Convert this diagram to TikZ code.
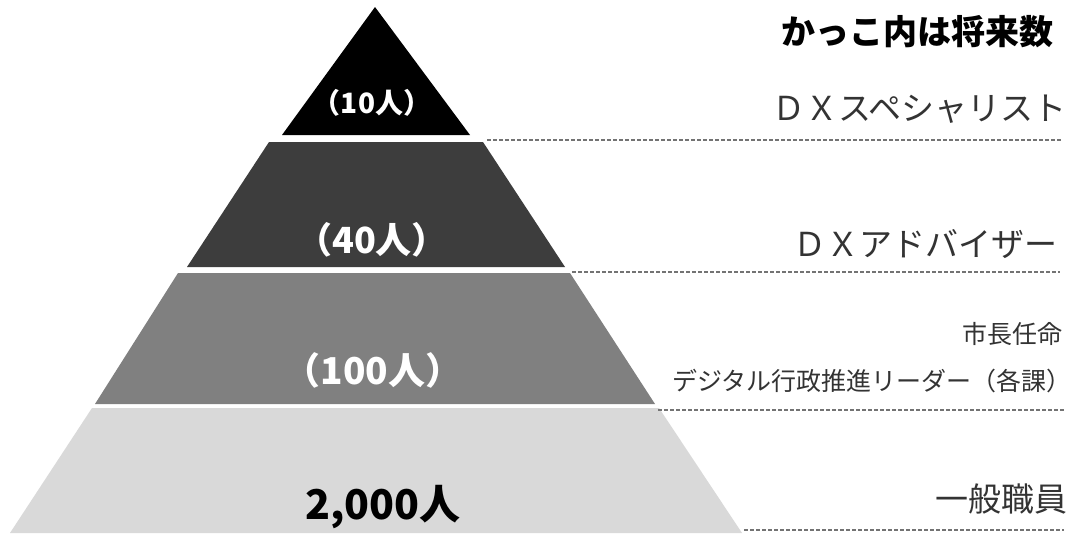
\documentclass[tikz,border=0pt]{standalone}
\usepackage{fontspec}
\newfontfamily\jp{Noto Sans CJK JP}
\begin{document}
\begin{tikzpicture}[x=1pt,y=-1pt,
  band/.style={draw=none},
  dashline/.style={draw=black!55, line width=2pt, dash pattern=on 3.5pt off 2.5pt},
  inlbl/.style={inner sep=0, text=white, font=\jp\bfseries\fontsize{#1}{#1}\selectfont},
  sidelbl/.style={inner sep=0, anchor=east, text=black!80, font=\jp\fontsize{#1}{#1}\selectfont}]
\useasboundingbox (0,0) rectangle (1078,533);
\fill[white] (0,0) rectangle (1078,533);
% bands
\fill[band, fill=black] (375,7) -- (470,135) -- (282,135) -- cycle;
\fill[band, fill=black!76] (269,142) -- (483,142) -- (565,267) -- (187,267) -- cycle;
\fill[band, fill=black!50] (178,273) -- (570,273) -- (655,404) -- (95,404) -- cycle;
\fill[band, fill=black!15] (92,408) -- (659,408) -- (742,533) -- (10,533) -- cycle;
% dashed guide lines
\coordinate (d1a) at (487,140); \coordinate (d1b) at (1062,140);
\coordinate (d2a) at (572,272); \coordinate (d2b) at (1060,272);
\coordinate (d3a) at (658,410); \coordinate (d3b) at (1064,410);
\coordinate (d4a) at (744,530); \coordinate (d4b) at (1064,530);
\draw[dashline] (d1a) -- (d1b);
\draw[dashline] (d2a) -- (d2b);
\draw[dashline] (d3a) -- (d3b);
\draw[dashline] (d4a) -- (d4b);
% labels in pyramid
\node[inlbl=28] (n10) at (372,103) {（10人）};
\node[inlbl=36] (n40) at (372,240) {（40人）};
\node[inlbl=37] (n100) at (373,370) {（100人）};
\node[inlbl=41, text=black] (n2000) at (383,507) {2,000人};
% side labels
\node[sidelbl=34, text=black, font=\jp\bfseries\fontsize{34}{34}\selectfont] (title) at (1054,32) {かっこ内は将来数};
\node[sidelbl=33] (l1) at (1067,109) {ＤＸスペシャリスト};
\node[sidelbl=33] (l2) at (1058,244) {ＤＸアドバイザー};
\node[sidelbl=25] (l3a) at (1063,334) {市長任命};
\node[sidelbl=25] (l3b) at (1072,381) {デジタル行政推進リーダー（各課）};
\node[sidelbl=33] (l4) at (1068,499) {一般職員};
\end{tikzpicture}
\end{document}
